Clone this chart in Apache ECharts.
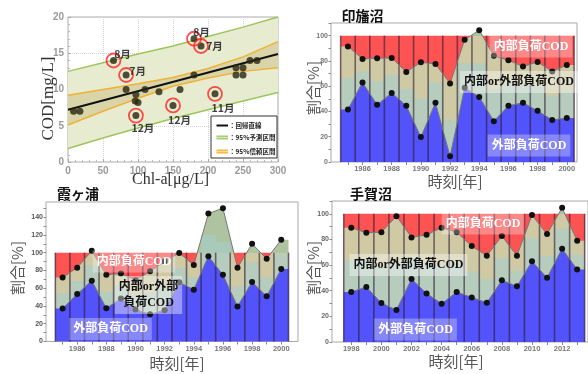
<!DOCTYPE html>
<html>
<head>
<meta charset="utf-8">
<script src="https://cdn.jsdelivr.net/npm/echarts@6/dist/echarts.min.js"></script>
<style>
  html, body { margin: 0; padding: 0; background: #fff; }
  #c { width: 588px; height: 374px; }
</style>
</head>
<body>
<div id="c"></div>
<script>
// ---------- COD vs Chl-a scatter ----------
const chlX = [8, 17, 83, 97, 96, 100, 110, 130, 160, 180, 240, 240, 250, 250, 260, 270];
const codY = [7, 7, 10, 9.3, 8.4, 8.2, 10, 9.7, 10, 12, 13, 12, 13, 12, 14, 14];
const markedX = [65, 83, 97, 150, 180, 190, 210];
const markedY = [14, 12, 6.4, 7.8, 17, 16, 9.4];
const markedMonth = ['8月', '7月', '12月', '12月', '8月', '7月', '11月'];
const bandX = [0, 50, 100, 150, 200, 250, 300];
const predUpper = [12.5, 13.7, 14.9, 16.0, 17.3, 18.6, 20.0];
const predLower = [1.85, 3.3, 4.7, 6.0, 7.2, 8.4, 9.6];
const confUpper = [9.2, 10.0, 10.8, 11.65, 12.9, 14.5, 16.6];
const confLower = [5.1, 7.0, 8.8, 10.45, 11.6, 12.5, 13.0];
const regX = [0, 300];
const regY = [7.2, 14.9];

// ---------- 印旛沼 ----------
const inbaYears = [1985, 1986, 1987, 1988, 1989, 1990, 1991, 1992, 1993, 1994, 1995, 1996, 1997, 1998, 1999, 2000];
const inbaTickLabels = [1986, 1988, 1990, 1992, 1994, 1996, 1998, 2000];
const inbaUpper = [91.5, 81.6, 82.1, 82.4, 71.2, 78.9, 77.6, 62.1, 96.8, 104.3, 84, 80.5, 75.5, 79.2, 71.7, 76.8];
const inbaMid = [66.5, 72, 64, 69, 58, 50, 63, 33, 78, 78, 58, 62.5, 61, 60, 52.5, 56];
const inbaLower = [41.6, 62.9, 45.3, 54.7, 44.5, 19.7, 46.9, 4.5, 58.7, 51.5, 32.3, 44.5, 46.9, 40.5, 33.3, 34.9];

// ---------- 霞ヶ浦 ----------
const kasumiYears = [1985, 1986, 1987, 1988, 1989, 1990, 1991, 1992, 1993, 1994, 1995, 1996, 1997, 1998, 1999, 2000];
const kasumiTickLabels = [1986, 1988, 1990, 1992, 1994, 1996, 1998, 2000];
const kasumiUpper = [72, 83, 102, 75, 76.5, 69, 79, 90, 99.7, 86, 144, 150, 83, 110, 93, 114.5];
const kasumiMid = [54.5, 68, 85.5, 56, 62.5, 52.5, 55, 62.5, 83, 72, 120, 112, 62, 89, 72, 98.5];
const kasumiLower = [37, 53.4, 68.5, 37.3, 48.5, 36, 30.7, 35.3, 66.6, 58.3, 96, 75, 39.5, 67, 50.8, 81.7];

// ---------- 手賀沼 ----------
const teganumaYears = [1998, 1999, 2000, 2001, 2002, 2003, 2004, 2005, 2006, 2007, 2008, 2009, 2010, 2011, 2012, 2013];
const teganumaTickLabels = [1998, 2000, 2002, 2004, 2006, 2008, 2010, 2012];
const teganumaUpper = [89.1, 85.2, 85.7, 98.2, 81.6, 83.6, 89.1, 85.7, 74.8, 67.3, 82.6, 67.3, 99, 84.2, 104.7, 79];
const teganumaMid = [64, 64, 58, 61.5, 65.5, 61, 59.5, 62, 55, 49, 65.5, 55.5, 81, 67, 88.5, 68];
const teganumaLower = [39, 42.9, 30.4, 24.9, 49.1, 37.9, 29.9, 39, 34.8, 30.6, 48.1, 43.4, 62.9, 50.1, 72.7, 56.6];

// ---------- styles ----------
const RED = '#fe5353';
const TAN = '#cfcaa4';
const SAGE = '#aec39f';
const MID = 'rgba(165,205,205,0.6)';
const BLUE = '#5353fb';
const JP = "'Noto Sans CJK JP'";
const LABEL_FONT = "'Liberation Serif','Noto Sans CJK JP'";
const markedLabelOffset = [[9, -6], [11.5, -4], [7, 12], [6.5, 15], [7.5, -7], [13.5, 0.5], [8, 14]];

const panels = [
  { years: inbaYears, ticks: inbaTickLabels, upper: inbaUpper, mid: inbaMid, lower: inbaLower,
    grid: { left: 331, top: 23, width: 246, height: 139 }, xMin: 1983.84, xMax: 2000.7, yMax: 110,
    yLabels: [0, 20, 40, 60, 80, 100], yTicks: [0, 10, 20, 30, 40, 50, 60, 70, 80, 90, 100, 110], yColor: '#777' },
  { years: kasumiYears, ticks: kasumiTickLabels, upper: kasumiUpper, mid: kasumiMid, lower: kasumiLower,
    grid: { left: 46, top: 202, width: 252, height: 139.5 }, xMin: 1983.86, xMax: 2001.15, yMax: 157,
    yLabels: [0, 20, 40, 60, 80, 100, 120, 140], yTicks: [0, 10, 20, 30, 40, 50, 60, 70, 80, 90, 100, 110, 120, 130, 140, 150], yColor: '#555' },
  { years: teganumaYears, ticks: teganumaTickLabels, upper: teganumaUpper, mid: teganumaMid, lower: teganumaLower,
    grid: { left: 332, top: 201, width: 257, height: 141 }, xMin: 1996.72, xMax: 2013.72, yMax: 110,
    yLabels: [0, 20, 40, 60, 80, 100], yTicks: [0, 10, 20, 30, 40, 50, 60, 70, 80, 90, 100, 110], yColor: '#666' }
];

const grids = [{ left: 68, top: 17, width: 210, height: 145, show: true, borderColor: '#aaa', borderWidth: 1, backgroundColor: 'transparent' }];
const xAxes = [{
  gridIndex: 0, type: 'value', min: 0, max: 300, interval: 50,
  axisLine: { show: false },
  axisTick: { show: true, inside: true, length: 3, lineStyle: { color: '#aaa' } },
  minorTick: { show: true, splitNumber: 5, length: 2, lineStyle: { color: '#bbb' } },
  splitLine: { show: true, lineStyle: { type: 'dotted', color: '#d4d4d4' } },
  axisLabel: { fontSize: 10, fontWeight: 'bold', color: '#9a9a9a', fontFamily: 'Liberation Sans', margin: 4 }
}];
const yAxes = [{
  gridIndex: 0, type: 'value', min: 0, max: 20, interval: 5,
  axisLine: { show: false },
  axisTick: { show: true, inside: true, length: 3, lineStyle: { color: '#aaa' } },
  minorTick: { show: true, splitNumber: 5, length: 2, lineStyle: { color: '#bbb' } },
  splitLine: { show: true, lineStyle: { type: 'dotted', color: '#d4d4d4' } },
  axisLabel: { fontSize: 10, fontWeight: 'bold', color: '#9a9a9a', fontFamily: 'Liberation Sans', margin: 4 }
}];

function pairs(xs, ys) { return xs.map((x, i) => [x, ys[i]]); }

const series = [];
// prediction and confidence bands as filled polygons between their bounds
function band(lo, hi, fill) {
  series.push({ type: 'custom', xAxisIndex: 0, yAxisIndex: 0, data: [[bandX[0], lo[0]]], silent: true, z: 1,
    renderItem: (params, api) => {
      const top = bandX.map((x, i) => api.coord([x, hi[i]]));
      const bottom = bandX.map((x, i) => api.coord([x, lo[i]])).reverse();
      return { type: 'polygon', shape: { points: top.concat(bottom) }, style: { fill } };
    } });
}
band(predLower, predUpper, '#e7ecd0');
band(confLower, confUpper, '#d9d5a8');
[[predUpper, '#9dc55c'], [predLower, '#9dc55c'], [confUpper, '#f0b136'], [confLower, '#f0b136']].forEach(([arr, col]) => {
  series.push({ type: 'line', xAxisIndex: 0, yAxisIndex: 0, data: pairs(bandX, arr), symbol: 'none',
    lineStyle: { color: col, width: 1.5 }, silent: true, z: 2 });
});
series.push({ type: 'line', xAxisIndex: 0, yAxisIndex: 0, data: pairs(regX, regY), symbol: 'none',
  lineStyle: { color: '#111', width: 2 }, z: 3 });
series.push({ type: 'scatter', xAxisIndex: 0, yAxisIndex: 0, data: pairs(chlX, codY).concat(pairs(markedX, markedY)),
  symbolSize: 7, itemStyle: { color: '#26260f' }, z: 4 });
series.push({ type: 'scatter', xAxisIndex: 0, yAxisIndex: 0,
  data: markedX.map((x, i) => ({
    value: [x, markedY[i]],
    label: { show: true, formatter: markedMonth[i], position: 'inside', offset: markedLabelOffset[i] }
  })),
  symbolSize: 14, itemStyle: { color: 'rgba(0,0,0,0)', borderColor: '#ff2424', borderWidth: 1.8 },
  label: { fontSize: 10.5, fontWeight: 'bold', color: '#111', fontFamily: JP }, z: 5 });

// ---------- stacked-share panels ----------
panels.forEach((p, k) => {
  const gi = k + 1;
  const pitch = p.grid.width / (p.xMax - p.xMin);
  const n = p.years.length;
  const first = p.years[0], last = p.years[n - 1];
  const ext = arr => [[first - 0.5, arr[0]]].concat(pairs(p.years, arr), [[last + 0.5, arr[n - 1]]]);
  grids.push(Object.assign({ show: true, borderColor: '#a8a8a8', borderWidth: 1, backgroundColor: 'transparent' }, p.grid));
  xAxes.push({
    gridIndex: gi, type: 'value', min: p.xMin, max: p.xMax,
    axisLine: { show: false }, splitLine: { show: false },
    axisTick: { show: true, customValues: p.years, length: 3, lineStyle: { color: '#888' } },
    axisLabel: { customValues: p.ticks, formatter: v => String(v), fontSize: 7.5, fontWeight: 'bold', color: '#777',
      fontFamily: "'Liberation Sans Narrow','Liberation Sans'", margin: 3 }
  });
  yAxes.push({
    gridIndex: gi, type: 'value', min: 0, max: p.yMax,
    axisLine: { show: false }, splitLine: { show: false },
    axisTick: { show: true, customValues: p.yTicks, length: 2.5, lineStyle: { color: '#888' } },
    axisLabel: { customValues: p.yLabels, fontSize: 7, fontWeight: 'bold', color: p.yColor,
      fontFamily: 'Liberation Sans', margin: 3 }
  });
  const ax = { xAxisIndex: gi, yAxisIndex: gi };
  series.push(Object.assign({ type: 'bar', data: p.years.map(y => [y, 100]), barWidth: pitch + 0.4, barGap: '-100%',
    itemStyle: { color: RED }, silent: true, z: 1 }, ax));
  series.push(Object.assign({ id: 'upperArea' + gi, type: 'line', data: ext(p.upper), symbol: 'none',
    lineStyle: { opacity: 0 }, areaStyle: { color: TAN, opacity: 1 }, silent: true, z: 2 }, ax));
  series.push(Object.assign({ type: 'bar', data: pairs(p.years, p.mid), barWidth: pitch + 0.4, barGap: '-100%',
    itemStyle: { color: MID }, silent: true, z: 3 }, ax));
  series.push(Object.assign({ type: 'line', data: ext(p.lower), symbol: 'none',
    lineStyle: { opacity: 0 }, areaStyle: { color: BLUE, opacity: 1 }, silent: true, z: 4 }, ax));
  // dark separators between the yearly columns (up to the 100 % level)
  series.push(Object.assign({ type: 'custom', data: p.years.map(y => [y, 0]), silent: true, z: 5,
    renderItem: (params, api) => {
      const x = api.value(0);
      const mk = xx => {
        const a = api.coord([xx, 0]), b = api.coord([xx, 100]);
        return { type: 'line', shape: { x1: a[0], y1: a[1], x2: b[0], y2: b[1] },
          style: { stroke: 'rgba(45,25,50,0.6)', lineWidth: 1.6 } };
      };
      const children = [mk(x - 0.5)];
      if (params.dataIndex === n - 1) children.push(mk(x + 0.5));
      return { type: 'group', children };
    } }, ax));
  [p.upper, p.lower].forEach(arr => {
    series.push(Object.assign({ type: 'line', data: pairs(p.years, arr), symbol: 'circle', symbolSize: 6,
      showAllSymbol: true, itemStyle: { color: '#111' }, lineStyle: { color: '#777', width: 1 }, silent: true, z: 6 }, ax));
  });
});

// ---------- text, legend, annotation boxes ----------
function txt(t, x, y, o) {
  return Object.assign({ type: 'text', x, y, z: 100, silent: true,
    style: Object.assign({ text: t, x: 0, y: 0, align: 'center', verticalAlign: 'middle' }, o) });
}
const graphic = [
  // scatter axis names
  Object.assign(txt('COD[mg/L]', 49, 98.5, { font: "17px 'Liberation Serif'", fill: '#333' }), { rotation: Math.PI / 2 }),
  txt('Chl-a[μg/L]', 170.5, 179.5, { font: "16px 'Liberation Serif'", fill: '#333' }),
  // scatter legend
  { type: 'rect', shape: { x: 211, y: 116, width: 66, height: 42 }, style: { fill: '#fff', stroke: '#333', lineWidth: 1 }, z: 90, silent: true },
  { type: 'line', shape: { x1: 216.5, y1: 125.5, x2: 228, y2: 125.5 }, style: { stroke: '#111', lineWidth: 2 }, z: 91, silent: true },
  { type: 'line', shape: { x1: 216.5, y1: 137.5, x2: 228, y2: 137.5 }, style: { stroke: '#a3cd6c', lineWidth: 4 }, z: 91, silent: true },
  { type: 'line', shape: { x1: 216.5, y1: 137.5, x2: 228, y2: 137.5 }, style: { stroke: '#d6ebc2', lineWidth: 1.2 }, z: 92, silent: true },
  { type: 'line', shape: { x1: 216.5, y1: 151.5, x2: 228, y2: 151.5 }, style: { stroke: '#f4b73a', lineWidth: 4 }, z: 91, silent: true },
  { type: 'line', shape: { x1: 216.5, y1: 151.5, x2: 228, y2: 151.5 }, style: { stroke: '#fadf9e', lineWidth: 1.2 }, z: 92, silent: true },
  txt('：回帰直線', 229, 125.5, { font: "bold 6.5px " + JP, fill: '#222', align: 'left' }),
  txt('：95%予測区間', 229, 137.5, { font: "bold 6.5px " + JP, fill: '#222', align: 'left' }),
  txt('：95%信頼区間', 229, 151.5, { font: "bold 6.5px " + JP, fill: '#222', align: 'left' }),
  // panel titles
  txt('印旛沼', 362.5, 16, { font: "bold 14px " + JP, fill: '#111' }),
  txt('霞ヶ浦', 78, 194, { font: "bold 14px " + JP, fill: '#111' }),
  txt('手賀沼', 371, 193.5, { font: "bold 14px " + JP, fill: '#111' }),
  // panel axis names
  Object.assign(txt('割合[%]', 313, 88, { font: "15px " + JP, fill: '#555' }), { rotation: Math.PI / 2 }),
  Object.assign(txt('割合[%]', 17, 268, { font: "15px " + JP, fill: '#555' }), { rotation: Math.PI / 2 }),
  Object.assign(txt('割合[%]', 313, 268, { font: "15px " + JP, fill: '#555' }), { rotation: Math.PI / 2 }),
  txt('時刻[年]', 455, 181, { font: "15px " + JP, fill: '#555' }),
  txt('時刻[年]', 177, 363, { font: "15px " + JP, fill: '#555' }),
  txt('時刻[年]', 456, 361, { font: "15px " + JP, fill: '#555' })
];
function boxLabel(t, x, y, dark, bg) {
  return txt(t, x, y, { font: "bold 12px " + LABEL_FONT, fill: dark ? '#111' : '#fff',
    backgroundColor: bg, padding: [3, 4], lineHeight: 16 });
}
graphic.push(
  boxLabel('内部負荷COD', 531, 46.5, false, 'rgba(255,255,255,0.3)'),
  boxLabel('内部or外部負荷COD', 519, 82, true, 'rgba(255,255,255,0.4)'),
  boxLabel('外部負荷COD', 529, 145.5, false, 'rgba(255,255,255,0.3)'),
  boxLabel('内部負荷COD', 134, 261.5, false, 'rgba(255,255,255,0.3)'),
  boxLabel('内部or外部\n負荷COD', 148.5, 295, true, 'rgba(255,255,255,0.4)'),
  boxLabel('外部負荷COD', 110.5, 329, false, 'rgba(255,255,255,0.3)'),
  boxLabel('内部負荷COD', 483, 223.5, false, 'rgba(255,255,255,0.3)'),
  boxLabel('内部or外部負荷COD', 408.5, 265, true, 'rgba(255,255,255,0.4)'),
  boxLabel('外部負荷COD', 415.5, 329.5, false, 'rgba(255,255,255,0.3)')
);

const chart = echarts.init(document.getElementById('c'), null, { renderer: 'canvas', width: 588, height: 374 });
chart.setOption({
  animation: false,
  backgroundColor: '#fff',
  grid: grids, xAxis: xAxes, yAxis: yAxes, series, graphic
});

// above the 100 % level the upper fill turns sage instead of tan
const updates = panels.map((p, k) => {
  const gi = k + 1;
  const y100 = chart.convertToPixel({ xAxisIndex: gi, yAxisIndex: gi }, [p.years[0], 100])[1];
  return {
    id: 'upperArea' + gi,
    areaStyle: { color: new echarts.graphic.LinearGradient(0, y100 - 0.5, 0, y100 + 0.5, [
      { offset: 0, color: SAGE }, { offset: 0.5, color: SAGE }, { offset: 0.5, color: TAN }, { offset: 1, color: TAN }
    ], true), opacity: 1 }
  };
});
chart.setOption({ series: updates });
</script>
</body>
</html>
